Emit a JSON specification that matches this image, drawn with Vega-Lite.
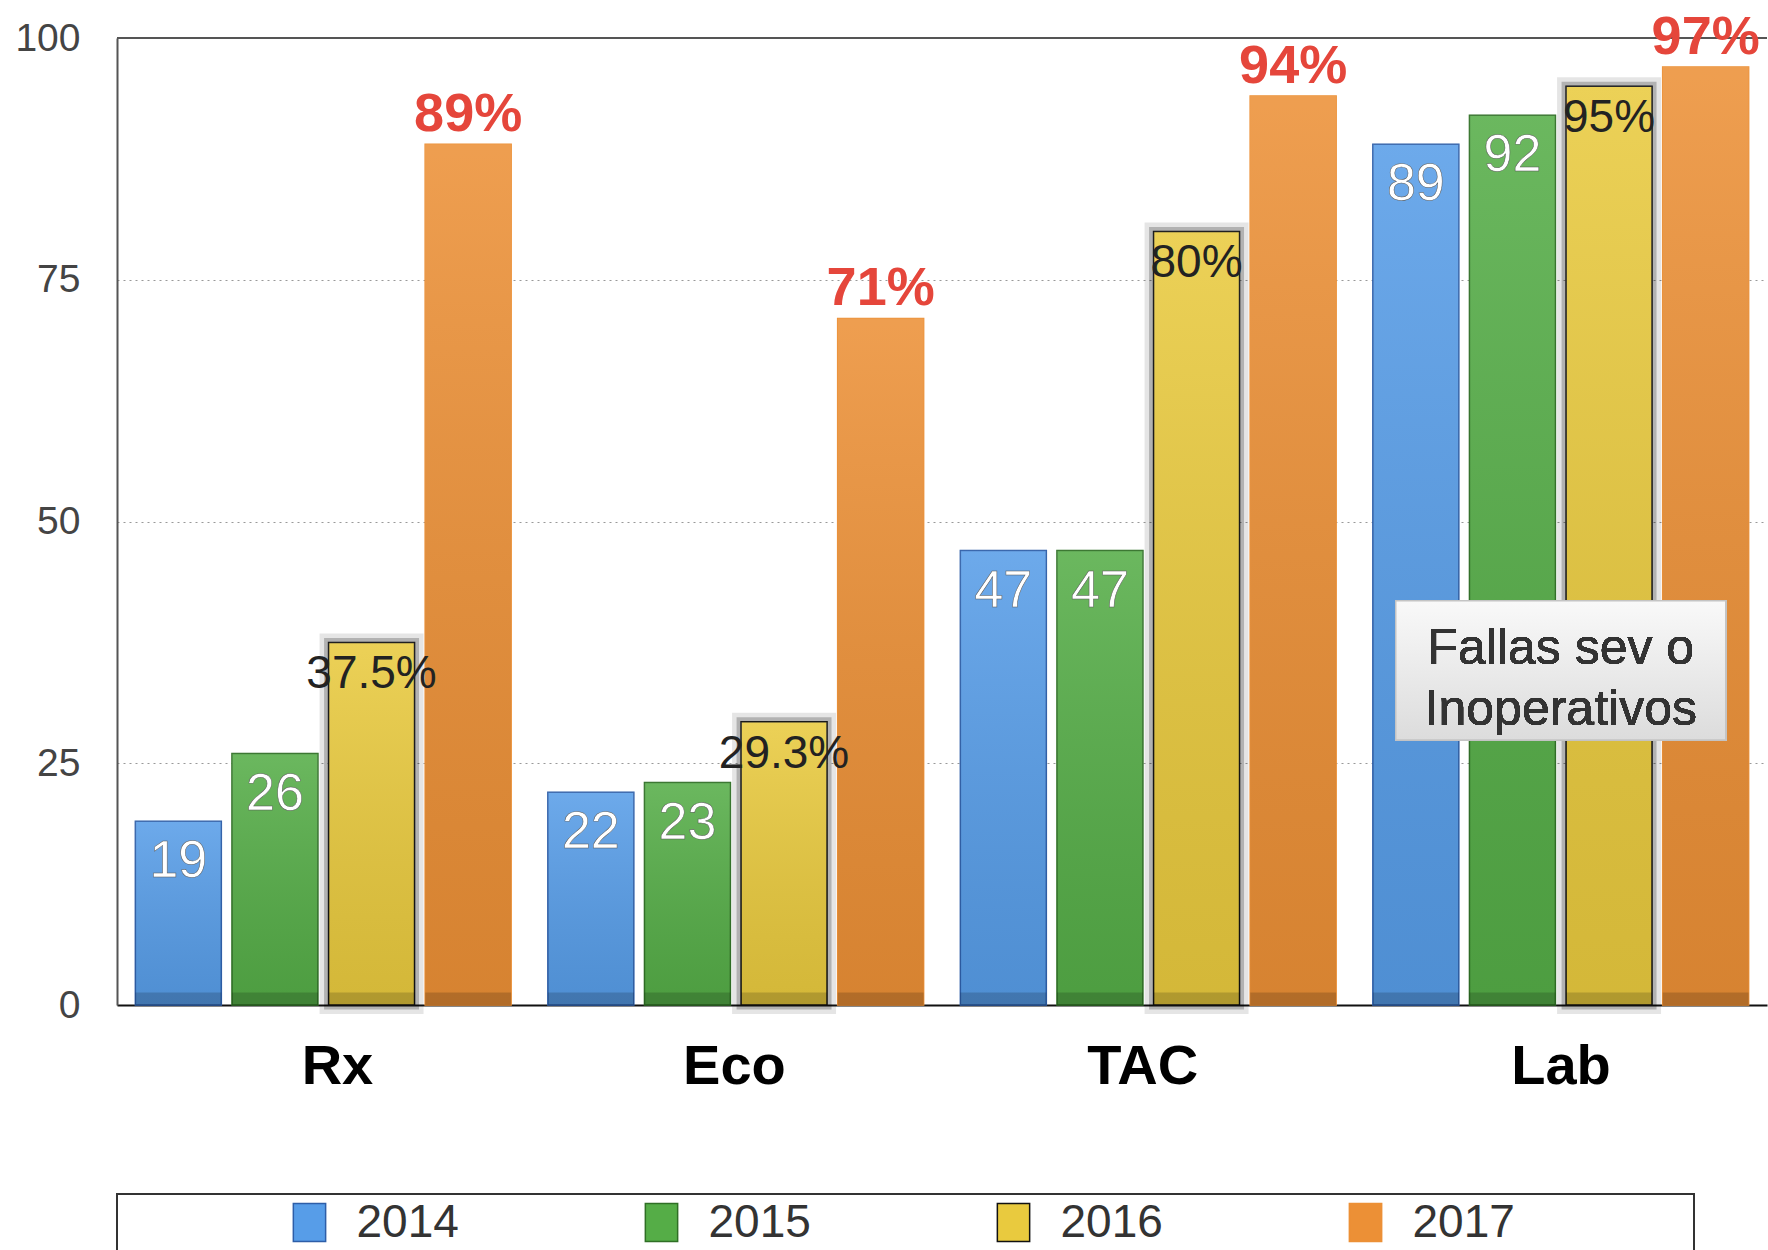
{
  "$schema": "https://vega.github.io/schema/vega-lite/v6.json",
  "background": "white",
  "padding": {"left": 14, "top": 11, "right": 0, "bottom": 0},
  "bounds": "flush",
  "spacing": 189,
  "config": {"font": "Liberation Sans", "view": {"stroke": null}},
  "vconcat": [
    {
      "width": 1650,
      "height": 967,
      "data": {"values": [
        {"cat": "Rx", "year": "2014", "value": 19, "label": "19"},
        {"cat": "Rx", "year": "2015", "value": 26, "label": "26"},
        {"cat": "Rx", "year": "2016", "value": 37.5, "label": "37.5%"},
        {"cat": "Rx", "year": "2017", "value": 89, "label": "89%"},
        {"cat": "Eco", "year": "2014", "value": 22, "label": "22"},
        {"cat": "Eco", "year": "2015", "value": 23, "label": "23"},
        {"cat": "Eco", "year": "2016", "value": 29.3, "label": "29.3%"},
        {"cat": "Eco", "year": "2017", "value": 71, "label": "71%"},
        {"cat": "TAC", "year": "2014", "value": 47, "label": "47"},
        {"cat": "TAC", "year": "2015", "value": 47, "label": "47"},
        {"cat": "TAC", "year": "2016", "value": 80, "label": "80%"},
        {"cat": "TAC", "year": "2017", "value": 94, "label": "94%"},
        {"cat": "Lab", "year": "2014", "value": 89, "label": "89"},
        {"cat": "Lab", "year": "2015", "value": 92, "label": "92"},
        {"cat": "Lab", "year": "2016", "value": 95, "label": "95%"},
        {"cat": "Lab", "year": "2017", "value": 97, "label": "97%"}
      ]},
      "layer": [
        {
          "mark": {"type": "bar", "fillOpacity": 0, "stroke": "#000", "strokeOpacity": 0.1, "strokeWidth": 18},
          "transform": [{"filter": "datum.year == '2016'"}],
          "encoding": {
            "x": {"field": "cat", "type": "nominal", "sort": ["Rx", "Eco", "TAC", "Lab"], "scale": {"paddingInner": 0, "paddingOuter": 0}},
            "xOffset": {"field": "year", "type": "nominal", "sort": ["2014", "2015", "2016", "2017"], "scale": {"paddingInner": 0.11, "paddingOuter": 0.19}},
            "y": {"field": "value", "type": "quantitative", "scale": {"domain": [0, 100], "nice": false}}
          }
        },
        {
          "mark": {"type": "bar", "fillOpacity": 0, "stroke": "#000", "strokeOpacity": 0.22, "strokeWidth": 9},
          "transform": [{"filter": "datum.year == '2016'"}],
          "encoding": {
            "x": {"field": "cat", "type": "nominal", "sort": ["Rx", "Eco", "TAC", "Lab"]},
            "xOffset": {"field": "year", "type": "nominal", "sort": ["2014", "2015", "2016", "2017"]},
            "y": {"field": "value", "type": "quantitative"}
          }
        },
        {
          "mark": {"type": "bar"},
          "encoding": {
            "x": {"field": "cat", "type": "nominal", "sort": ["Rx", "Eco", "TAC", "Lab"],
              "axis": {"title": null, "labelAngle": 0, "ticks": false, "domain": true, "domainColor": "#111", "domainWidth": 2,
                "labelFontSize": 56, "labelFontWeight": "bold", "labelColor": "#000", "labelPadding": 61, "labelOffset": 50}},
            "xOffset": {"field": "year", "type": "nominal", "sort": ["2014", "2015", "2016", "2017"]},
            "y": {"field": "value", "type": "quantitative",
              "axis": {"title": null, "values": [0, 25, 50, 75, 100], "ticks": false, "domain": true, "domainColor": "#555", "domainWidth": 2,
                "labelFontSize": 39, "labelColor": "#444", "labelPadding": 37,
                "grid": true, "gridColor": "#999", "gridDash": [2, 4], "gridWidth": 1.2}},
            "fill": {"field": "year", "type": "nominal", "legend": null,
              "scale": {"domain": ["2014", "2015", "2016", "2017"], "range": ["#579de8", "#55ad47", "#e9ca3e", "#ec9036"]}},
            "stroke": {"field": "year", "type": "nominal", "legend": null,
              "scale": {"domain": ["2014", "2015", "2016", "2017"], "range": ["#2d5ea8", "#2f6f25", "#111111", "#ec9036"]}},
            "strokeWidth": {"field": "year", "type": "nominal", "legend": null,
              "scale": {"domain": ["2014", "2015", "2016", "2017"], "range": [1.5, 1.5, 3.5, 0]}}
          }
        },
        {
          "mark": {"type": "bar", "fill": {"gradient": "linear", "x1": 0, "y1": 0, "x2": 0, "y2": 1,
            "stops": [{"offset": 0, "color": "rgba(255,255,255,0.13)"}, {"offset": 1, "color": "rgba(0,0,0,0.09)"}]}},
          "encoding": {
            "x": {"field": "cat", "type": "nominal", "sort": ["Rx", "Eco", "TAC", "Lab"]},
            "xOffset": {"field": "year", "type": "nominal", "sort": ["2014", "2015", "2016", "2017"]},
            "y": {"field": "value", "type": "quantitative"}
          }
        },
        {
          "mark": {"type": "bar", "fill": "#000", "fillOpacity": 0.17},
          "encoding": {
            "x": {"field": "cat", "type": "nominal", "sort": ["Rx", "Eco", "TAC", "Lab"]},
            "xOffset": {"field": "year", "type": "nominal", "sort": ["2014", "2015", "2016", "2017"]},
            "y": {"datum": 1.3},
            "y2": {"datum": 0}
          }
        },
        {
          "mark": {"type": "rule", "color": "#555", "strokeWidth": 2},
          "encoding": {"y": {"datum": 100}}
        },
        {
          "mark": {"type": "text", "color": "#ffffff", "fontSize": 52, "baseline": "top", "dy": 15, "stroke": "#555", "strokeWidth": 0.5},
          "transform": [{"filter": "datum.year == '2014' || datum.year == '2015'"}],
          "encoding": {
            "x": {"field": "cat", "type": "nominal", "sort": ["Rx", "Eco", "TAC", "Lab"]},
            "xOffset": {"field": "year", "type": "nominal", "sort": ["2014", "2015", "2016", "2017"]},
            "y": {"field": "value", "type": "quantitative"},
            "text": {"field": "label"}
          }
        },
        {
          "mark": {"type": "text", "color": "#222", "fontSize": 46, "baseline": "top", "dy": 10},
          "transform": [{"filter": "datum.year == '2016'"}],
          "encoding": {
            "x": {"field": "cat", "type": "nominal", "sort": ["Rx", "Eco", "TAC", "Lab"]},
            "xOffset": {"field": "year", "type": "nominal", "sort": ["2014", "2015", "2016", "2017"]},
            "y": {"field": "value", "type": "quantitative"},
            "text": {"field": "label"}
          }
        },
        {
          "mark": {"type": "text", "color": "#e5463b", "fontSize": 54, "fontWeight": "bold", "baseline": "alphabetic", "dy": -13},
          "transform": [{"filter": "datum.year == '2017'"}],
          "encoding": {
            "x": {"field": "cat", "type": "nominal", "sort": ["Rx", "Eco", "TAC", "Lab"]},
            "xOffset": {"field": "year", "type": "nominal", "sort": ["2014", "2015", "2016", "2017"]},
            "y": {"field": "value", "type": "quantitative"},
            "text": {"field": "label"}
          }
        },
        {
          "mark": {"type": "bar", "width": {"band": 0.8}, "stroke": "#c4c4c4", "strokeWidth": 1.5,
            "fill": {"gradient": "linear", "x1": 0, "y1": 0, "x2": 0, "y2": 1,
              "stops": [{"offset": 0, "color": "#f9f9f9"}, {"offset": 1, "color": "#dcdcdc"}]}},
          "encoding": {
            "x": {"datum": "Lab"},
            "y": {"datum": 41.8},
            "y2": {"datum": 27.4}
          }
        },
        {
          "mark": {"type": "text", "color": "#333", "fontSize": 50, "baseline": "middle", "lineHeight": 61},
          "encoding": {
            "x": {"datum": "Lab"},
            "y": {"datum": 36.8},
            "text": {"value": ["Fallas sev o", "Inoperativos"]}
          }
        }
      ]
    },
    {
      "width": 1577,
      "height": 57,
      "view": {"stroke": "#333", "strokeWidth": 2},
      "data": {"values": [
        {"year": "2014"}, {"year": "2015"}, {"year": "2016"}, {"year": "2017"}
      ]},
      "layer": [
        {
          "mark": {"type": "point", "filled": true, "opacity": 1, "size": 1444, "shape": "M-0.85,-1L0.85,-1L0.85,1L-0.85,1Z", "xOffset": -68},
          "encoding": {
            "x": {"field": "year", "type": "nominal", "sort": ["2014", "2015", "2016", "2017"], "scale": {"type": "point", "padding": 0.74}, "axis": null},
            "fill": {"field": "year", "type": "nominal", "legend": null,
              "scale": {"domain": ["2014", "2015", "2016", "2017"], "range": ["#4f94e0", "#50a543", "#e4c53c", "#ea8838"]}},
            "stroke": {"field": "year", "type": "nominal", "legend": null,
              "scale": {"domain": ["2014", "2015", "2016", "2017"], "range": ["#1d4f9a", "#2d6b22", "#111111", "#ea8838"]}},
            "strokeWidth": {"field": "year", "type": "nominal", "legend": null,
              "scale": {"domain": ["2014", "2015", "2016", "2017"], "range": [1.5, 1.5, 3, 0]}}
          }
        },
        {
          "mark": {"type": "text", "align": "left", "baseline": "middle", "fontSize": 46, "color": "#333", "dx": -21},
          "encoding": {
            "x": {"field": "year", "type": "nominal", "sort": ["2014", "2015", "2016", "2017"]},
            "text": {"field": "year"}
          }
        }
      ]
    }
  ]
}
